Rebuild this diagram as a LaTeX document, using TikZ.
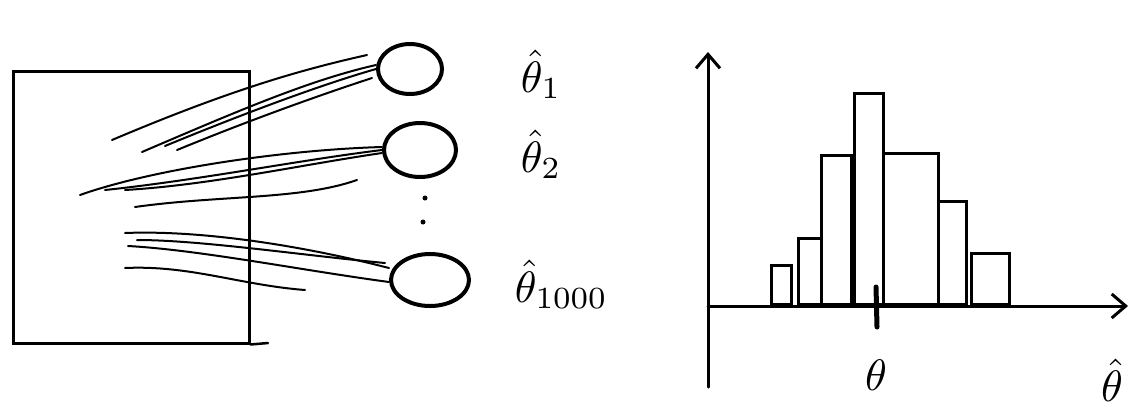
\documentclass[tikz,border=0pt]{standalone}
\usetikzlibrary{shapes.geometric,arrows.meta}
\begin{document}
\begin{tikzpicture}[x=1pt,y=-1pt,
  frame/.style={draw,line width=2.5pt,minimum width=236pt,minimum height=272pt,inner sep=0pt},
  sample/.style={draw,ellipse,line width=4pt,inner sep=0pt},
  strand/.style={line width=2pt,line cap=round},
  axis/.style={line width=3pt,line cap=round,-{Straight Barb[length=14pt,width=24pt,line width=3pt]}},
  bar/.style={draw,line width=3pt,inner sep=0pt,anchor=south west},
  lbl/.style={scale=4.4,inner sep=0pt},
  dot/.style={circle,fill,inner sep=0pt,minimum size=5pt}]
\useasboundingbox (0,0) rectangle (1134,408);

% data set
\node[frame,anchor=north west] (data) at (12,70) {};
\coordinate (tail) at (268,343);
\draw[line width=2.5pt,line cap=round] (data.south east) -- (tail);

% bootstrap samples
\node[sample,minimum width=64pt,minimum height=50pt] (s1) at (410,69) {};
\node[sample,minimum width=72pt,minimum height=54pt] (s2) at (420,150) {};
\node[sample,minimum width=78pt,minimum height=52pt] (s3) at (430,280) {};

% strands to sample 1
\coordinate (a1) at (112,140);
\coordinate (a2) at (142,152);
\coordinate (a3) at (165,146);
\coordinate (a4) at (177,150);
\coordinate (a5) at (372,78);
\coordinate (a6) at (367,55);
\draw[strand] (a1) .. controls (230,90) and (300,70) .. (a6);
\draw[strand] (a2) .. controls (240,110) and (310,80) .. ([yshift=4pt]s1.west);
\draw[strand] (a3) .. controls (240,115) and (320,85) .. (s1.west);
\draw[strand] (a4) .. controls (250,120) and (320,95) .. (a5);

% strands to sample 2
\coordinate (b1) at (80,195);
\coordinate (b2) at (105,190);
\coordinate (b3) at (125,190);
\coordinate (b4) at (135,207);
\coordinate (b5) at (357,180);
\draw[strand] (b1) .. controls (150,170) and (280,150) .. ([yshift=3pt]s2.west);
\draw[strand] (b2) .. controls (200,180) and (300,160) .. (s2.west);
\draw[strand] (b3) .. controls (210,185) and (300,165) .. ([yshift=-3pt]s2.west);
\draw[strand] (b4) .. controls (220,195) and (300,200) .. (b5);

% strands to sample 3
\coordinate (c1) at (125,233);
\coordinate (c2) at (137,240);
\coordinate (c3) at (128,246);
\coordinate (c4) at (125,268);
\coordinate (c5) at (385,263);
\coordinate (c6) at (305,290);
\draw[strand] (c1) .. controls (200,230) and (300,245) .. ([yshift=12pt]s3.west);
\draw[strand] (c2) .. controls (200,240) and (300,255) .. (c5);
\draw[strand] (c3) .. controls (200,250) and (300,270) .. ([yshift=-2pt]s3.west);
\draw[strand] (c4) .. controls (190,265) and (240,285) .. (c6);

% vertical dots
\node[dot] (d1) at (425,198) {};
\node[dot] (d2) at (423,222) {};

% estimates
\node[lbl,anchor=base west] (t1) at (520,92) {$\hat{\theta}_1$};
\node[lbl,anchor=base west] (t2) at (520,172) {$\hat{\theta}_2$};
\node[lbl,anchor=base west] (t3) at (514,302) {$\hat{\theta}_{1000}$};

% histogram axes
\coordinate (o) at (708,306);
\coordinate (ybot) at (708,387);
\coordinate (ytop) at (708,52);
\coordinate (xend) at (1128,306);
\draw[axis] (ybot) -- (ytop);
\draw[axis] (o) -- (xend);

% bars
\node[bar,minimum width=20pt,minimum height=39pt] (h1) at (770,306) {};
\node[bar,minimum width=23pt,minimum height=66pt] (h2) at (797,306) {};
\node[bar,minimum width=30pt,minimum height=149pt] (h3) at (820,306) {};
\node[bar,minimum width=29pt,minimum height=211pt] (h4) at (853,306) {};
\node[bar,minimum width=55pt,minimum height=151pt] (h5) at (882,306) {};
\node[bar,minimum width=28pt,minimum height=103pt] (h6) at (937,306) {};
\node[bar,minimum width=38pt,minimum height=51pt] (h7) at (970,306) {};

% true value tick
\coordinate (k1) at (876,287);
\coordinate (k2) at (877,327);
\draw[line width=5pt,line cap=round] (k1) -- (k2);
\node[lbl,anchor=base] (th) at (876,390) {$\theta$};
\node[lbl,anchor=base] (thh) at (1112,401) {$\hat{\theta}$};
\end{tikzpicture}
\end{document}
